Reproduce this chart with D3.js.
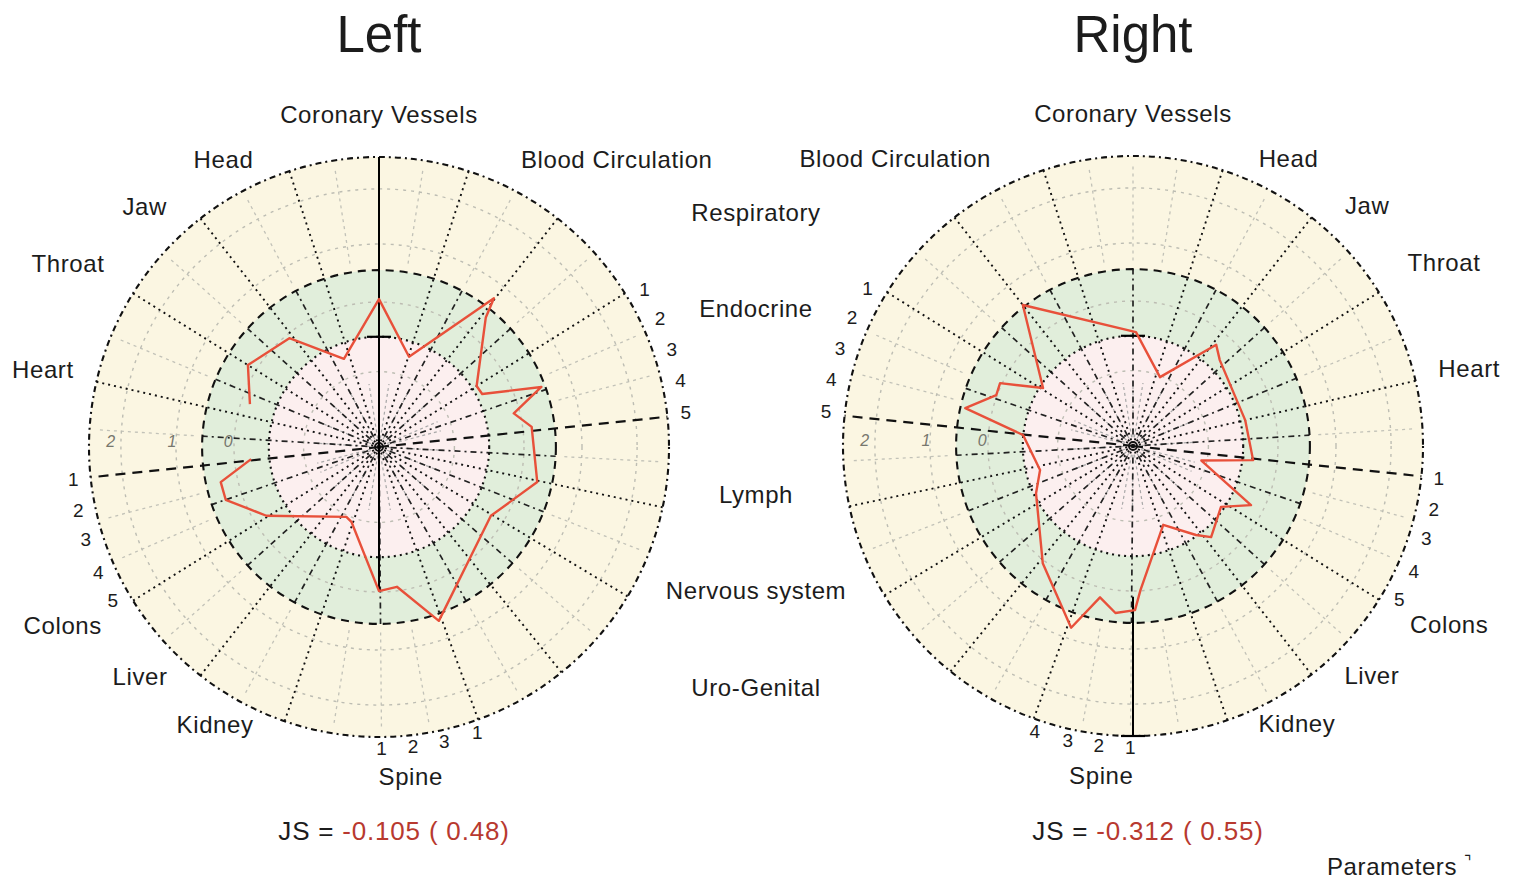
<!DOCTYPE html>
<html>
<head>
<meta charset="utf-8">
<script src="https://cdn.jsdelivr.net/npm/d3@7/dist/d3.min.js"></script>
<style>
  body { margin: 0; background: #fff; }
  text { font-family: "Liberation Sans", Arial, sans-serif; fill: #1c1c1c; }
</style>
</head>
<body>
<svg id="chart" width="1523" height="880"></svg>
<script>
// sector boundaries, degrees clockwise from top (left panel orientation)
var sectorAngles = [18, 38, 58, 84, 102, 121, 141, 160, 199, 218, 238, 264, 283, 302, 322, 342];

// labels around each panel (right panel is mirrored)
var categories = ["Coronary Vessels", "Blood Circulation", "Head", "Jaw", "Throat", "Heart", "Colons", "Liver", "Kidney", "Spine"];
var categoryAngles = [0, 39.6, -28.4, -44.2, -59.5, -77, 240.6, 226.2, 210.6, 174.5];
var categoryDist = [333, 373, 327, 336, 361, 345, 363, 331, 322, 331];

// labels shared between both panels
var middleCategories = ["Respiratory", "Endocrine", "Lymph", "Nervous system", "Uro-Genital"];
var middleAngles = [58.1, 69.8, 97.2, 110.9, 122.5];

// tick labels of the sub-parameters
var endocrineTicks = ["1", "2", "3", "4", "5"];
var endocrineTickAngles = [59.3, 65.5, 71.5, 77.6, 83.5];
var colonsTicks = ["1", "2", "3", "4", "5"];
var colonsTickAngles = [264, 258, 252.5, 246, 240];
var spineTicksLeft = ["1", "2", "3", "1"];
var spineTicksRight = ["1", "2", "3", "4"];
var spineTickAngles = [179.5, 173.5, 167.5, 161];
var ringLabels = ["2", "1", "0"];
var ringLabelValues = [92.5, 71.4, 52];

// measured profile, left panel (angle deg, value 0..100)
var leftAngles = [-71.6, -58, -39.5, -21.7, 0, 18.4, 37.7, 39.5, 58, 62.8, 69.7, 76, 82.5, 102.5,
  121.6, 161, 172.7, 180, 200, 205, 238.6, 251, 257.5, 264.6];
var leftValues = [46.9, 53.3, 48.6, 32.7, 51, 32.8, 64.8, 57.9, 39.7, 40, 59.7, 47.9, 53.1, 55.9,
  45.3, 63.4, 48.6, 49.7, 27.6, 26.6, 45.5, 55.9, 55.9, 44.3];

// measured profile, right panel (screen angles)
var rightAngles = [-38, 1.5, 21.4, 39.4, 45.3, 77, 96.7, 102, 116.6, 124.7, 139.4, 144.7, 159,
  177, 179.3, 186, 192.3, 198.8, 217.6, 244, 255.5, 275.7, 282.7, 290.4, 295.3, 302.8];
var rightValues = [61.7, 39.3, 25.5, 45.2, 42.1, 39.7, 41.7, 24.1, 45.5, 36.9, 41.4, 37.6, 29.1,
  49.7, 56.6, 57.9, 53.4, 66.2, 51, 37.2, 33.1, 38.1, 59.3, 50.3, 50.7, 36.9];

var titles = ["Left", "Right"];
var jsValues = ["-0.105 ( 0.48)", "-0.312 ( 0.55)"];
// vertical indicator line (signed value: + up, - down) and its bars
var spineFrom = [100, -52], spineTo = [-49.7, -100];
var spineBars = [[38], [38, -100]];

var svg = d3.select("#chart");
var r = d3.scaleLinear().domain([0, 100]).range([0, 290]);
var rad = Math.PI / 180;
var midX = 756;

function pt(a, v, m) {
    return [m * r(v) * Math.sin(a * rad), -r(v) * Math.cos(a * rad)];
}

function drawPanel(i, cx, cy, m, angles, values, closed, spineTicks) {
    var g = svg.append("g").attr("transform", "translate(" + cx + "," + cy + ")");

    // coloured zones
    g.selectAll("circle.zone")
        .data([[100, "#fbf6e2"], [61, "#e1eedb"], [38, "#fcefef"]])
        .enter()
        .append("circle")
        .attr("class", "zone")
        .attr("r", function (d) { return r(d[0]); })
        .style("fill", function (d) { return d[1]; });

    // sub-parameter lines (gray) inside each sector
    var subs = [];
    sectorAngles.forEach(function (a0, k) {
        var a1 = k < sectorAngles.length - 1 ? sectorAngles[k + 1] : sectorAngles[0] + 360;
        var n = Math.max(2, Math.round((a1 - a0) / 10));
        for (var j = 1; j < n; j++) subs.push(a0 + j * (a1 - a0) / n);
    });
    g.selectAll("line.sub")
        .data(subs)
        .enter()
        .append("line")
        .attr("class", "sub")
        .attr("x1", function (d) { return pt(d, 64, m)[0]; })
        .attr("y1", function (d) { return pt(d, 64, m)[1]; })
        .attr("x2", function (d) { return pt(d, 97, m)[0]; })
        .attr("y2", function (d) { return pt(d, 97, m)[1]; })
        .style("stroke", "#c2c2b8")
        .style("stroke-width", 1.3)
        .style("stroke-dasharray", "3,4");
    g.selectAll("line.subin")
        .data(subs)
        .enter()
        .append("line")
        .attr("class", "subin")
        .attr("x1", function (d) { return pt(d, 3, m)[0]; })
        .attr("y1", function (d) { return pt(d, 3, m)[1]; })
        .attr("x2", function (d) { return pt(d, 22, m)[0]; })
        .attr("y2", function (d) { return pt(d, 22, m)[1]; })
        .style("stroke", "#a8a8a8")
        .style("stroke-width", 1.2)
        .style("stroke-dasharray", "3,3");

    // gray reference rings
    g.selectAll("circle.ref")
        .data([26, 50, 70, 89])
        .enter()
        .append("circle")
        .attr("class", "ref")
        .attr("r", function (d) { return r(d); })
        .style("fill", "none")
        .style("stroke", "#bdbdb3")
        .style("stroke-width", 1.4)
        .style("stroke-dasharray", "3,5");

    // mid-sector spokes
    var mids = sectorAngles.map(function (a0, k) {
        var a1 = k < sectorAngles.length - 1 ? sectorAngles[k + 1] : sectorAngles[0] + 360;
        return (a0 + a1) / 2;
    });
    g.selectAll("line.mid")
        .data(mids)
        .enter()
        .append("line")
        .attr("class", "mid")
        .attr("x1", function (d) { return pt(d, 4, m)[0]; })
        .attr("y1", function (d) { return pt(d, 4, m)[1]; })
        .attr("x2", function (d) { return pt(d, 61, m)[0]; })
        .attr("y2", function (d) { return pt(d, 61, m)[1]; })
        .style("stroke", "#222")
        .style("stroke-width", 1.7)
        .style("stroke-dasharray", "6,4,2,4");

    // sector boundaries
    g.selectAll("line.sector")
        .data(sectorAngles)
        .enter()
        .append("line")
        .attr("class", "sector")
        .attr("x1", 0)
        .attr("y1", 0)
        .attr("x2", function (d) { return pt(d, 100, m)[0]; })
        .attr("y2", function (d) { return pt(d, 100, m)[1]; })
        .style("stroke", "#111")
        .style("stroke-width", function (d) { return d == 84 || d == 264 ? 2.2 : 1.9; })
        .style("stroke-dasharray", function (d) { return d == 84 || d == 264 ? "10,7" : "2,4"; });

    // black rings
    g.selectAll("circle.ring")
        .data([[38, "2,4"], [61, "8,6"], [100, "2,4,6,4"]])
        .enter()
        .append("circle")
        .attr("class", "ring")
        .attr("r", function (d) { return r(d[0]); })
        .style("fill", "none")
        .style("stroke", "#111")
        .style("stroke-width", 2.1)
        .style("stroke-dasharray", function (d) { return d[1]; });

    // centre
    g.append("circle").attr("r", 4).style("fill", "none").style("stroke", "#111").style("stroke-width", 2);

    // indicator line with bars
    g.append("line")
        .attr("x1", 0).attr("x2", 0)
        .attr("y1", -r(spineFrom[i]))
        .attr("y2", -r(spineTo[i]))
        .style("stroke", "#000")
        .style("stroke-width", 2);
    g.selectAll("line.bar")
        .data(spineBars[i])
        .enter()
        .append("line")
        .attr("class", "bar")
        .attr("x1", -12).attr("x2", 12)
        .attr("y1", function (d) { return -r(d); })
        .attr("y2", function (d) { return -r(d); })
        .style("stroke", "#000")
        .style("stroke-width", 2.2);

    // profile
    var line = d3.lineRadial()
        .angle(function (d) { return d[0] * rad; })
        .radius(function (d) { return r(d[1]); })
        .curve(closed ? d3.curveLinearClosed : d3.curveLinear);
    g.append("path")
        .datum(d3.zip(angles, values))
        .attr("d", line)
        .style("fill", "none")
        .style("stroke", "#e8503a")
        .style("stroke-width", 2.4)
        .style("stroke-linejoin", "round");

    // tick labels
    function ticks(labels, tickAngles, v) {
        g.selectAll(null)
            .data(labels)
            .enter()
            .append("text")
            .attr("x", function (d, k) { return pt(tickAngles[k], v, m)[0]; })
            .attr("y", function (d, k) { return pt(tickAngles[k], v, m)[1]; })
            .attr("text-anchor", "middle")
            .attr("dominant-baseline", "central")
            .style("font-size", "19px")
            .text(function (d) { return d; });
    }
    ticks(endocrineTicks, endocrineTickAngles, 106.5);
    ticks(colonsTicks, colonsTickAngles, 106);
    ticks(spineTicks, spineTickAngles, 104);

    g.selectAll("text.ringlab")
        .data(ringLabels)
        .enter()
        .append("text")
        .attr("class", "ringlab")
        .attr("x", function (d, k) { return -r(ringLabelValues[k]); })
        .attr("y", -6)
        .attr("text-anchor", "middle")
        .attr("dominant-baseline", "central")
        .style("font-size", "16px")
        .style("font-style", "italic")
        .style("fill", "#77776e")
        .text(function (d) { return d; });

    // category labels
    g.selectAll("text.cat")
        .data(categories)
        .enter()
        .append("text")
        .attr("class", "cat")
        .attr("x", function (d, k) { return m * categoryDist[k] * Math.sin(categoryAngles[k] * rad); })
        .attr("y", function (d, k) { return -categoryDist[k] * Math.cos(categoryAngles[k] * rad); })
        .attr("text-anchor", "middle")
        .attr("dominant-baseline", "central")
        .style("font-size", "24px")
        .style("letter-spacing", "0.6px")
        .text(function (d) { return d; });

    // title
    g.append("text")
        .attr("x", 0)
        .attr("y", 52 - cy)
        .attr("text-anchor", "middle")
        .style("font-size", "51px")
        .text(titles[i]);

    // JS score
    var js = g.append("text")
        .attr("x", 15)
        .attr("y", 840 - cy)
        .attr("text-anchor", "middle")
        .style("font-size", "26px")
        .style("letter-spacing", "0.8px");
    js.append("tspan").text("JS =  ");
    js.append("tspan").style("fill", "#b8392f").text(jsValues[i]);
}

drawPanel(0, 379, 447, 1, leftAngles, leftValues, false, spineTicksLeft);
drawPanel(1, 1133, 446, -1, rightAngles, rightValues, true, spineTicksRight);

// shared labels in the middle column
svg.selectAll("text.middle")
    .data(middleCategories)
    .enter()
    .append("text")
    .attr("class", "middle")
    .attr("x", midX)
    .attr("y", function (d, k) { return 447 - (midX - 379) / Math.tan(middleAngles[k] * rad); })
    .attr("text-anchor", "middle")
    .attr("dominant-baseline", "central")
    .style("font-size", "24px")
    .style("letter-spacing", "0.6px")
    .text(function (d) { return d; });

var param = svg.append("text")
    .attr("x", 1327)
    .attr("y", 875)
    .style("font-size", "24px")
    .style("letter-spacing", "0.6px")
    .text("Parameters ");
param.append("tspan").attr("dy", -8).style("font-size", "16px").text("⌝");
</script>
</body>
</html>
